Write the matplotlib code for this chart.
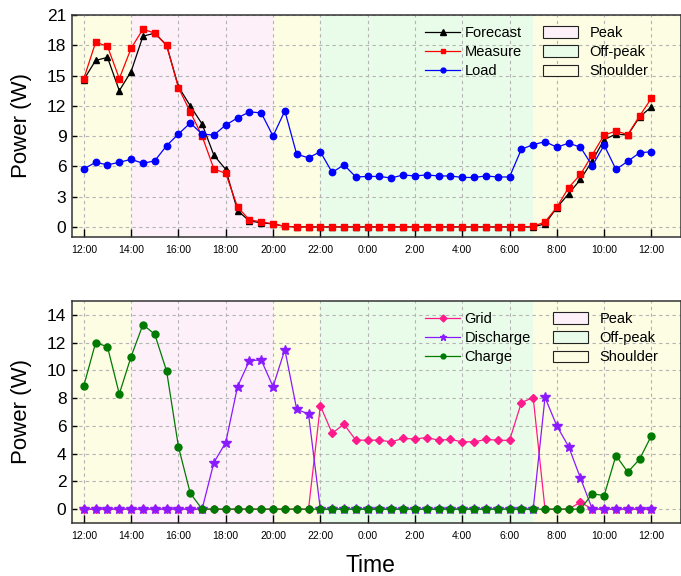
import numpy as np
import matplotlib
matplotlib.use('Agg')
import matplotlib.pyplot as plt
from matplotlib.patches import Patch
from matplotlib.lines import Line2D

plt.rcParams['font.family'] = ['Liberation Sans', 'DejaVu Sans']

# half-hour samples from 12:00 to 12:00 next day (hours since noon)
hours = np.arange(49) * 0.5
tick_pos = [0, 2, 4, 6, 8, 10, 12, 14, 16, 18, 20, 22, 24]
tick_lab = ['12:00', '14:00', '16:00', '18:00', '20:00', '22:00', '0:00',
            '2:00', '4:00', '6:00', '8:00', '10:00', '12:00']

forecast = [14.6, 16.5, 16.8, 13.5, 15.4, 18.9, 19.2, 18.0, 13.9, 12.0,
            10.2, 7.1, 5.7, 1.6, 0.6, 0.4, 0.3, 0.05, 0, 0,
            0, 0, 0, 0, 0, 0, 0, 0, 0, 0,
            0, 0, 0, 0, 0, 0, 0, 0, 0, 0.3,
            1.9, 3.3, 4.7, 6.55, 8.65, 9.2, 9.1, 10.9, 11.9]
measure = [14.7, 18.3, 17.9, 14.7, 17.7, 19.6, 19.2, 18.0, 13.8, 11.4,
           9.0, 5.75, 5.3, 1.97, 0.7, 0.5, 0.3, 0.05, 0, 0,
           0, 0, 0, 0, 0, 0, 0, 0, 0, 0,
           0, 0, 0, 0, 0, 0, 0, 0, 0.05, 0.5,
           1.95, 3.9, 5.2, 7.15, 9.1, 9.5, 9.15, 11.0, 12.75]
load = [5.75, 6.4, 6.15, 6.4, 6.7, 6.3, 6.55, 8.05, 9.2, 10.3,
        9.2, 9.1, 10.1, 10.8, 11.4, 11.3, 9.0, 11.5, 7.2, 6.85,
        7.45, 5.4, 6.15, 4.95, 5.0, 5.0, 4.85, 5.15, 5.05, 5.15,
        5.05, 5.05, 4.9, 4.9, 5.05, 4.95, 4.95, 7.7, 8.15, 8.45,
        7.9, 8.3, 7.9, 6.05, 8.1, 5.7, 6.5, 7.35, 7.45]

grid = [0, 0, 0, 0, 0, 0, 0, 0, 0, 0,
        0, 0, 0, 0, 0, 0, 0, 0, 0, 0,
        7.45, 5.47, 6.12, 4.97, 4.97, 4.97, 4.85, 5.1, 5.05, 5.16,
        4.97, 5.02, 4.85, 4.85, 5.02, 4.97, 4.95, 7.68, 8.04, 0,
        0, 0, 0.5, 0, 0, 0, 0, 0, 0]
discharge = [0, 0, 0, 0, 0, 0, 0, 0, 0, 0,
             0, 3.36, 4.8, 8.83, 10.7, 10.75, 8.83, 11.5, 7.2, 6.85,
             0, 0, 0, 0, 0, 0, 0, 0, 0, 0,
             0, 0, 0, 0, 0, 0, 0, 0, 0, 8.05,
             6.0, 4.5, 2.23, 0, 0, 0, 0, 0, 0]
charge = [8.9, 12.0, 11.7, 8.3, 11.0, 13.3, 12.6, 9.95, 4.5, 1.15,
          0, 0, 0, 0, 0, 0, 0, 0, 0, 0,
          0, 0, 0, 0, 0, 0, 0, 0, 0, 0,
          0, 0, 0, 0, 0, 0, 0, 0, 0, 0,
          0, 0, 0, 1.1, 0.98, 3.86, 2.67, 3.6, 5.3]

# tariff periods (start, end, kind)
periods = [(-1, 2, 'shoulder'), (2, 8, 'peak'), (8, 10, 'shoulder'),
           (10, 19, 'offpeak'), (19, 26, 'shoulder')]
period_col = {'peak': '#fdf0f9', 'offpeak': '#e9fce9', 'shoulder': '#fdfde4'}

W, H = 681, 576
fig = plt.figure(figsize=(W / 100, H / 100), dpi=100)
ax1 = fig.add_axes([72 / W, 1 - 237 / H, 1 - 72 / W, 222 / H])
ax2 = fig.add_axes([72 / W, 1 - 523 / H, 1 - 72 / W, 222 / H])


def style(ax, ylim, yticks):
    for a, b, k in periods:
        ax.axvspan(a, b, color=period_col[k], lw=0, zorder=0)
    ax.set_xlim(-0.5, 25.25)
    ax.set_ylim(*ylim)
    ax.set_yticks(yticks)
    ax.set_xticks(tick_pos)
    ax.set_xticklabels(tick_lab, fontsize=7.5)
    ax.tick_params(axis='x', direction='in', length=5.5, width=1, pad=6)
    ax.tick_params(axis='y', direction='in', length=3.5, width=1,
                   labelsize=12.5, pad=4)
    ax.grid(True, color='#b4b4b4', ls=(0, (3, 3)), lw=0.8, zorder=1)
    for s in ax.spines.values():
        s.set_linewidth(1.1)
        s.set_color('#333333')
    ax.set_ylabel('Power (W)', fontsize=16)
    ax.yaxis.set_label_coords(-0.066, 0.5)


def period_legend(ax, x, y):
    handles = [Patch(facecolor=period_col['peak'], edgecolor='#222222', lw=0.8, label='Peak'),
               Patch(facecolor=period_col['offpeak'], edgecolor='#222222', lw=0.8, label='Off-peak'),
               Patch(facecolor=period_col['shoulder'], edgecolor='#222222', lw=0.8, label='Shoulder')]
    leg = ax.legend(handles=handles, loc='upper left', bbox_to_anchor=(x, y),
                    bbox_transform=fig.transFigure, frameon=False, fontsize=10.5,
                    handlelength=2.4, handleheight=0.8, handletextpad=0.8,
                    labelspacing=0.35, borderpad=0, borderaxespad=0)
    return leg


# top panel: PV forecast / measurement and load
style(ax1, (-1, 21), np.arange(0, 22, 3))
ax1.plot(hours, forecast, '-^', color='black', lw=0.9, ms=5, zorder=3, label='Forecast')
ax1.plot(hours, measure, '-s', color='#ff0000', lw=0.9, ms=4.6, zorder=4, label='Measure')
ax1.plot(hours, load, '-o', color='#0000ff', lw=0.9, ms=4.6, zorder=5, label='Load')
lines1 = [Line2D([], [], color='black', marker='^', lw=0.9, ms=4, label='Forecast'),
          Line2D([], [], color='#ff0000', marker='s', lw=0.9, ms=3.5, label='Measure'),
          Line2D([], [], color='#0000ff', marker='o', lw=0.9, ms=3.5, label='Load')]
leg_a = ax1.legend(handles=lines1, loc='upper left', bbox_to_anchor=(425 / W, 1 - 26 / H),
                   bbox_transform=fig.transFigure, frameon=False, fontsize=10.5,
                   handlelength=2.4, handletextpad=0.3, labelspacing=0.35,
                   borderpad=0, borderaxespad=0)
ax1.add_artist(leg_a)
period_legend(ax1, 543 / W, 1 - 26 / H)

# bottom panel: grid import, battery discharge and charge
style(ax2, (-1, 15), np.arange(0, 15, 2))
ax2.plot(hours, grid, '-D', color='#ff1a8c', lw=0.9, ms=4.4, zorder=3, label='Grid')
ax2.plot(hours, discharge, '-*', color='#8a1aff', lw=0.9, ms=7, zorder=4, label='Discharge')
ax2.plot(hours, charge, '-o', color='#007a00', lw=0.9, ms=5, zorder=5, label='Charge')
lines2 = [Line2D([], [], color='#ff1a8c', marker='D', lw=0.9, ms=3.5, label='Grid'),
          Line2D([], [], color='#8a1aff', marker='*', lw=0.9, ms=5, label='Discharge'),
          Line2D([], [], color='#007a00', marker='o', lw=0.9, ms=3.5, label='Charge')]
leg_b = ax2.legend(handles=lines2, loc='upper left', bbox_to_anchor=(425 / W, 1 - 312 / H),
                   bbox_transform=fig.transFigure, frameon=False, fontsize=10.5,
                   handlelength=2.4, handletextpad=0.3, labelspacing=0.35,
                   borderpad=0, borderaxespad=0)
ax2.add_artist(leg_b)
period_legend(ax2, 553 / W, 1 - 312 / H)

fig.text(370 / W, 1 - 565 / H, 'Time', fontsize=16.5, ha='center', va='center')

fig.savefig('out.png', dpi=100)
